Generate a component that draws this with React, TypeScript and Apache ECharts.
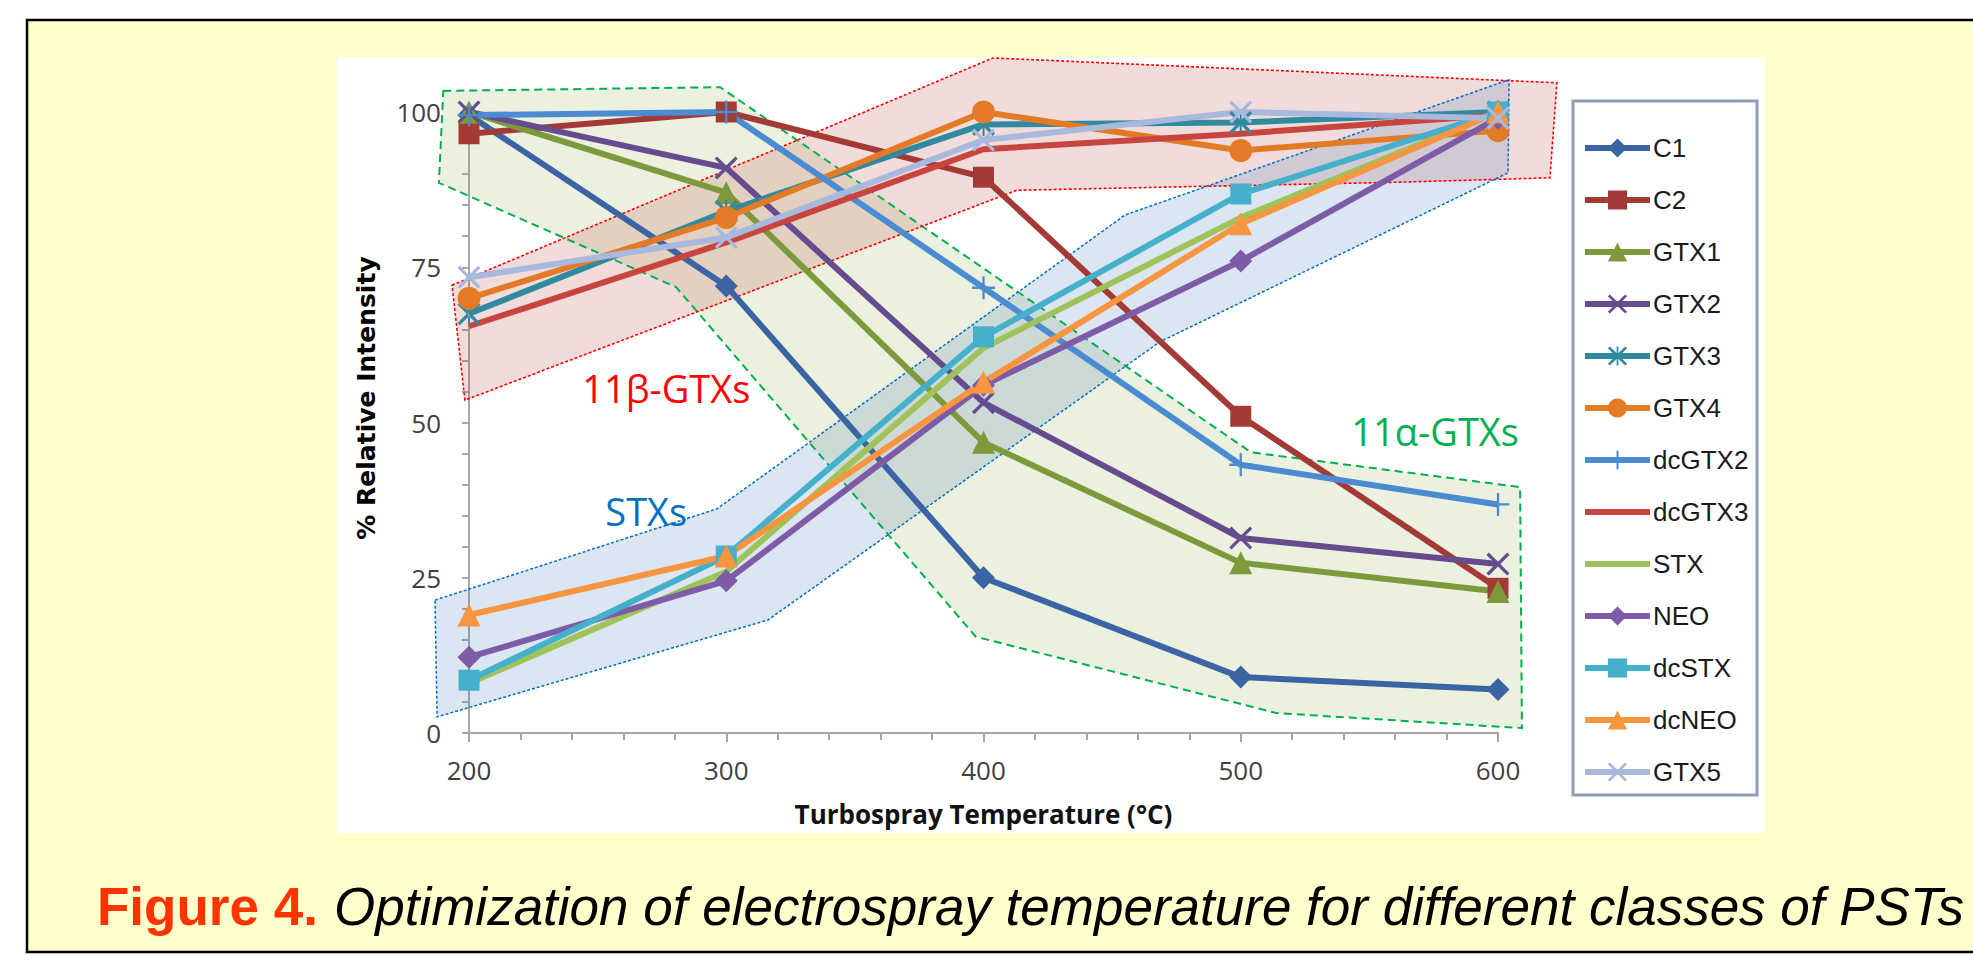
import React, { useEffect, useRef } from "react";
import * as echarts from "echarts";

// ---------- data ----------
const temperatures = [200, 300, 400, 500, 600];
const seriesNames = ["C1", "C2", "GTX1", "GTX2", "GTX3", "GTX4", "dcGTX2", "dcGTX3", "STX", "NEO", "dcSTX", "dcNEO", "GTX5"];
const c1 = [99.5, 72, 25, 9, 7];
const c2 = [96.5, 100, 89.5, 51, 23.3];
const gtx1 = [100, 87, 46.8, 27.4, 22.8];
const gtx2 = [100, 91, 53.2, 31.4, 27.2];
const gtx3 = [67.5, 84, 98, 98.3, 100];
const gtx4 = [70, 83, 100, 93.8, 97];
const dcgtx2 = [99.5, 100, 71.7, 43.2, 36.8];
const dcgtx3 = [65.5, 79, 94, 96.5, 99.5];
const stx = [8, 26, 62, 83, 100];
const neo = [12.2, 24.5, 56, 76, 99];
const dcstx = [8.5, 28.5, 63.8, 86.8, 100];
const dcneo = [19, 28.5, 56.5, 82, 100];
const gtx5 = [73.4, 79.8, 95.5, 100, 99];
const seriesValues = [c1, c2, gtx1, gtx2, gtx3, gtx4, dcgtx2, dcgtx3, stx, neo, dcstx, dcneo, gtx5];

const xTicks = [200, 300, 400, 500, 600];
const yTicks = [0, 25, 50, 75, 100];

// annotation regions (data units)
const alphaRegion = [[190, 103.4], [297.6, 104], [504, 45.2], [608.6, 39.6], [609.3, 0.8], [514, 3.2], [397, 15.5], [280.5, 71.8], [188.3, 88.6]];
const betaRegion = [[193.4, 72.1], [403.7, 108.7], [622.9, 104.7], [620.2, 89.4], [561.9, 88.7], [413, 87.4], [198.4, 53.6]];
const stxRegion = [[186.8, 21.4], [296.4, 36.1], [455, 83.4], [604.3, 105.2], [603.9, 90.2], [468.6, 63], [316.2, 18.2], [187.6, 2.6]];

const regionLabels = ["11β-GTXs", "11α-GTXs", "STXs"];
const regionLabelPos = [[244, 55.6], [543, 48.6], [253, 35.7]];

// ---------- styles ----------
const colors = ["#3A64A3", "#A33A36", "#7C9A3C", "#664C8E", "#2F8AA0", "#E27A26", "#4A8BD2", "#C8453F", "#9DC35A", "#7D5BA6", "#45B0CB", "#F79540", "#A8B9DD"];
const X_PATH = "path://M0,2 L2,0 L10,8 L18,0 L20,2 L12,10 L20,18 L18,20 L10,12 L2,20 L0,18 L8,10 Z";
const STAR_PATH = "path://M0,2 L2,0 L10,8 L18,0 L20,2 L12,10 L20,18 L18,20 L10,12 L2,20 L0,18 L8,10 Z M9.1,0 L9.1,20 L10.9,20 L10.9,0 Z";
const PLUS_PATH = "path://M9,0 L11,0 L11,9 L20,9 L20,11 L11,11 L11,20 L9,20 L9,11 L0,11 L0,9 L9,9 Z";
const symbols = ["diamond", "rect", "triangle", X_PATH, STAR_PATH, "circle", PLUS_PATH, "none", "none", "diamond", "rect", "triangle", X_PATH];
const symbolSizes = [23, 21, 23, 23, 23, 23, 23, 0, 0, 23, 21, 23, 23];
const labelColors = ["#FF0000", "#00B050", "#0070C0"];

const App: React.FC = () => {
  const ref = useRef<HTMLDivElement>(null);
  useEffect(() => {
    document.body.style.margin = "0";
    if (!ref.current) return;
    const chart = echarts.init(ref.current, undefined, { renderer: "svg" });

    const axisGray = "#A6A6A6";

    const shapeSeries = {
      type: "custom",
      z: 1,
      silent: true,
      clip: false,
      data: [[200, 0]],
      renderItem: (params: any, api: any) => {
        if (params.dataIndex !== 0) return null;
        const pts = (arr: number[][]) => arr.map((p) => api.coord(p));
        const a = pts(alphaRegion);
        const b = pts(betaRegion);
        const s = pts(stxRegion);
        return {
          type: "group",
          children: [
            { type: "polygon", shape: { points: a }, style: { fill: "rgba(155,187,89,0.2)", stroke: null } },
            { type: "polygon", shape: { points: b }, style: { fill: "rgba(192,80,77,0.2)", stroke: null } },
            { type: "polygon", shape: { points: s }, style: { fill: "rgba(79,129,189,0.2)", stroke: null } },
            { type: "polygon", shape: { points: a }, style: { fill: null, stroke: "#00B050", lineWidth: 2, lineDash: [8, 5] } },
            { type: "polygon", shape: { points: b }, style: { fill: null, stroke: "#FF0000", lineWidth: 1.6, lineDash: [3, 2] } },
            { type: "polygon", shape: { points: s }, style: { fill: null, stroke: "#0070C0", lineWidth: 1.5, lineDash: [3, 2] } },
          ],
        };
      },
    };

    const labelSeries = {
      type: "custom",
      z: 10,
      silent: true,
      clip: false,
      data: [[200, 0]],
      renderItem: (params: any, api: any) => {
        if (params.dataIndex !== 0) return null;
        return {
          type: "group",
          children: regionLabels.map((t, i) => {
            const p = api.coord(regionLabelPos[i]);
            return {
              type: "text",
              x: p[0],
              y: p[1],
              style: {
                text: t,
                fill: labelColors[i],
                fontFamily: "Open Sans",
                fontSize: 38,
                align: "left",
                verticalAlign: "middle",
                textAlign: "left",
                textVerticalAlign: "middle",
              },
            };
          }),
        };
      },
    };

    const lineSeries = seriesNames.map((name, i) => ({
      type: "line",
      name,
      z: 3,
      clip: false,
      data: temperatures.map((t, j) => [t, seriesValues[i][j]]),
      symbol: symbols[i],
      symbolSize: symbolSizes[i],
      showSymbol: symbols[i] !== "none",
      lineStyle: { width: 6, color: colors[i] },
      itemStyle: { color: colors[i] },
      emphasis: { disabled: true },
    }));

    const legendData = seriesNames.map((name, i) =>
      symbols[i] === "none" ? { name, itemStyle: { opacity: 0 } } : { name }
    );

    const option: any = {
      animation: false,
      grid: { left: 469, right: 475, top: 112, bottom: 236 },
      xAxis: {
        type: "value",
        min: xTicks[0],
        max: xTicks[xTicks.length - 1],
        interval: 100,
        name: "Turbospray Temperature (°C)",
        nameLocation: "middle",
        nameGap: 68,
        nameTextStyle: { fontFamily: "Open Sans", fontWeight: "bold", fontSize: 26, color: "#111" },
        axisLine: { show: true, lineStyle: { color: axisGray, width: 2 } },
        axisTick: { show: true, length: 9, lineStyle: { color: axisGray, width: 2 } },
        minorTick: { show: true, splitNumber: 5, length: 7, lineStyle: { color: axisGray, width: 2 } },
        splitLine: { show: false },
        axisLabel: { fontFamily: "Open Sans", fontSize: 26, color: "#404040", margin: 24 },
      },
      yAxis: {
        type: "value",
        min: yTicks[0],
        max: yTicks[yTicks.length - 1],
        interval: 25,
        axisLine: { show: true, lineStyle: { color: axisGray, width: 2 } },
        axisTick: { show: true, length: 7, lineStyle: { color: axisGray, width: 2 } },
        minorTick: { show: true, splitNumber: 5, length: 7, lineStyle: { color: axisGray, width: 2 } },
        splitLine: { show: false },
        axisLabel: { fontFamily: "Open Sans", fontSize: 26, color: "#404040", margin: 28 },
      },
      legend: {
        orient: "vertical",
        left: 1582,
        top: 135,
        itemWidth: 65,
        itemHeight: 24,
        itemGap: 26,
        padding: 0,
        selectedMode: false,
        data: legendData,
        lineStyle: { width: 6 },
        textStyle: { fontFamily: "Liberation Sans", fontSize: 26, color: "#1a1a1a", padding: [0, 0, 0, -2] },
      },
      graphic: [
        { type: "rect", z: -10, silent: true, shape: { x: 0, y: 0, width: 1973, height: 969 }, style: { fill: "#FFFFFF" } },
        { type: "rect", z: -9, silent: true, shape: { x: 27, y: 20, width: 2000, height: 932 }, style: { fill: "#FFFFCC", stroke: "#000000", lineWidth: 2.5 } },
        { type: "rect", z: -8, silent: true, shape: { x: 337, y: 57, width: 1428, height: 776 }, style: { fill: "#FFFFFF" } },
        { type: "rect", z: -7, silent: true, shape: { x: 1573, y: 101, width: 184, height: 694 }, style: { fill: "#FFFFFF", stroke: "#8E9DB8", lineWidth: 3 } },
        {
          type: "text", z: 5, silent: true, x: 366, y: 398, rotation: Math.PI / 2,
          style: { text: "% Relative Intensity", fill: "#000", fontFamily: "DejaVu Sans", fontWeight: "bold", fontSize: 25, align: "center", verticalAlign: "middle", textAlign: "center", textVerticalAlign: "middle" },
        },
        {
          type: "text", z: 5, silent: true, x: 97, y: 906,
          style: { text: "Figure 4.", fill: "#FF3300", fontFamily: "Liberation Sans", fontWeight: "bold", fontSize: 53, align: "left", verticalAlign: "middle", textAlign: "left", textVerticalAlign: "middle" },
        },
        {
          type: "text", z: 5, silent: true, x: 334, y: 906,
          style: { text: "Optimization of electrospray temperature for different classes of PSTs", fill: "#000", fontFamily: "Liberation Sans", fontStyle: "italic", fontSize: 53, align: "left", verticalAlign: "middle", textAlign: "left", textVerticalAlign: "middle" },
        },
      ],
      series: [shapeSeries, ...lineSeries, labelSeries],
    };

    chart.setOption(option);
    return () => chart.dispose();
  }, []);

  return <div ref={ref} style={{ position: "absolute", left: 0, top: 0, width: 1973, height: 969 }} />;
};

export default App;
